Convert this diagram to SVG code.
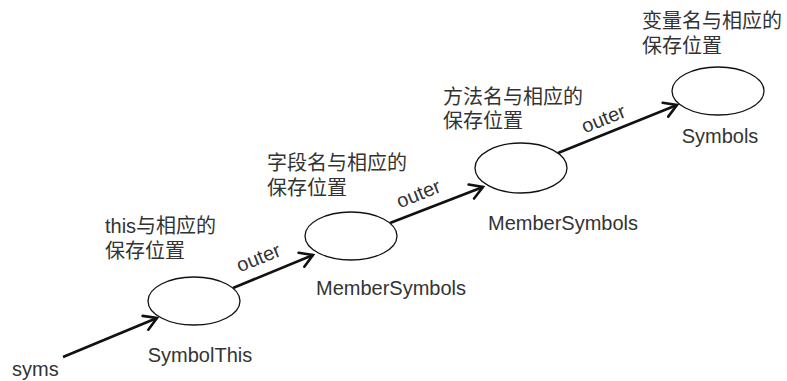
<svg xmlns="http://www.w3.org/2000/svg" width="787" height="381" viewBox="0 0 787 381">
  <style>
    text { font-family: "Liberation Sans", "Noto Sans CJK SC", sans-serif; font-size: 20px; fill: #333; }
    .node ellipse { fill: #fff; stroke: #111; stroke-width: 1.3; }
    .mid { text-anchor: middle; }
    .edge line { stroke: #111; stroke-width: 2.6; marker-end: url(#chev); }
  </style>
  <defs>
    <marker id="chev" viewBox="0 0 16 18" refX="14" refY="9" markerWidth="16" markerHeight="18" markerUnits="userSpaceOnUse" orient="auto">
      <path d="M1.5,1.5 L14,9 L1.5,16.5" fill="none" stroke="#111" stroke-width="2.6" stroke-linecap="round" stroke-linejoin="miter"/>
    </marker>
  </defs>
  <rect width="787" height="381" fill="#fff"/>

  <!-- connectors -->
  <g id="edges" class="edge">
    <line x1="63" y1="357" x2="157" y2="318"/>
    <line x1="233" y1="288" x2="313" y2="255"/>
    <line x1="390" y1="223" x2="483" y2="187"/>
    <line x1="558" y1="153" x2="677" y2="105"/>
    <text class="mid" transform="translate(261,264) rotate(-22)">outer</text>
    <text class="mid" transform="translate(421,200) rotate(-22)">outer</text>
    <text class="mid" transform="translate(606,125) rotate(-22)">outer</text>
  </g>

  <text x="12" y="376">syms</text>

  <g id="symbolThis" class="node">
    <ellipse cx="194" cy="301" rx="46" ry="24"/>
    <text class="mid" x="200" y="362">SymbolThis</text>
    <text x="105" y="233">this与相应的</text>
    <text x="105" y="258">保存位置</text>
  </g>

  <g id="fieldSymbols" class="node">
    <ellipse cx="351" cy="236" rx="46" ry="24"/>
    <text class="mid" x="391" y="295">MemberSymbols</text>
    <text x="267" y="170">字段名与相应的</text>
    <text x="267" y="195">保存位置</text>
  </g>

  <g id="methodSymbols" class="node">
    <ellipse cx="521" cy="168" rx="46" ry="25"/>
    <text class="mid" x="563" y="230">MemberSymbols</text>
    <text x="443" y="104">方法名与相应的</text>
    <text x="443" y="128">保存位置</text>
  </g>

  <g id="localSymbols" class="node">
    <ellipse cx="718" cy="91" rx="46" ry="24"/>
    <text class="mid" x="720" y="143">Symbols</text>
    <text x="642" y="28">变量名与相应的</text>
    <text x="642" y="53">保存位置</text>
  </g>
</svg>
